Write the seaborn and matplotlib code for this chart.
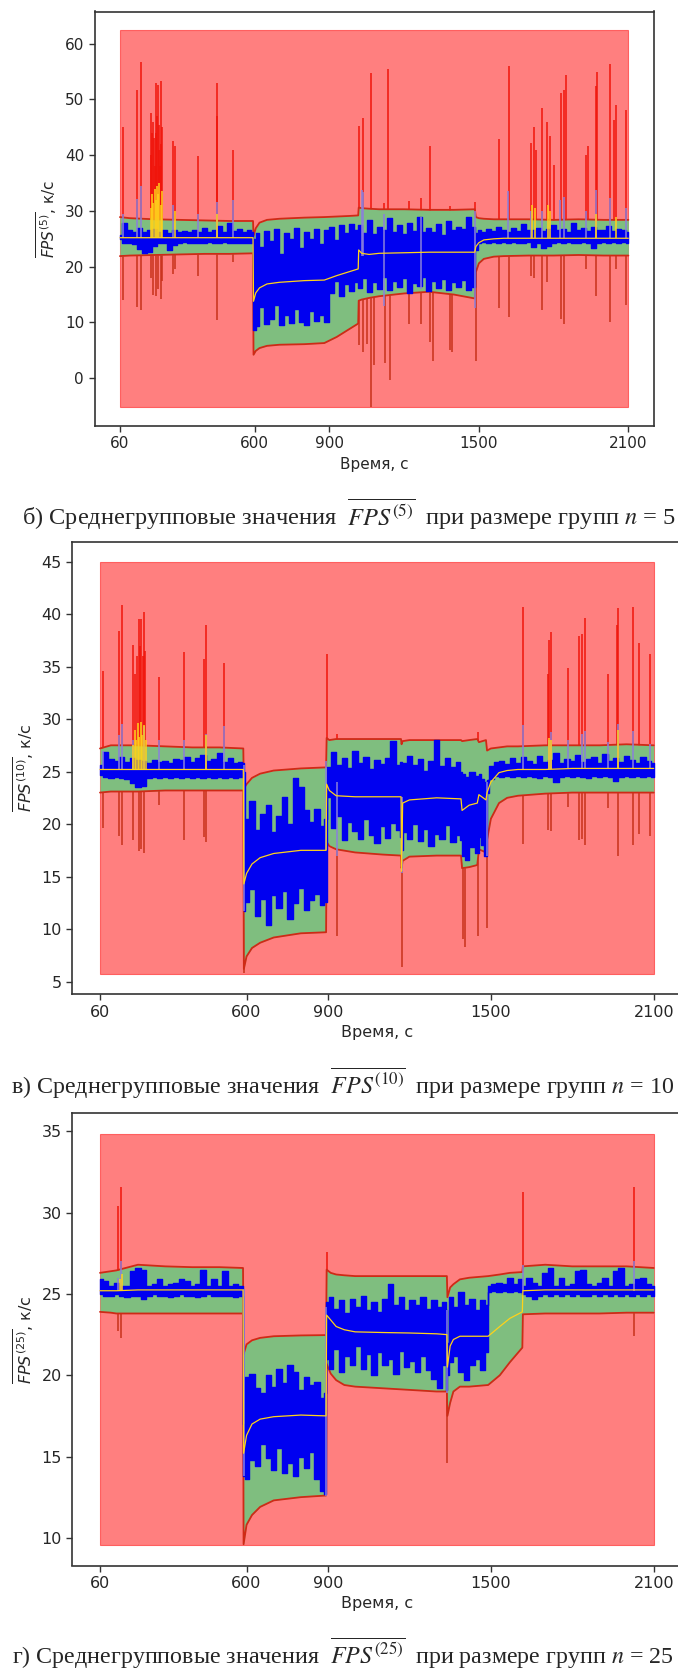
import numpy as np
import matplotlib
matplotlib.use("Agg")
import matplotlib.pyplot as plt
import seaborn as sns

# ---------------------------------------------------------------------------
# Common time span of the observation window, s
time_span = [60, 2100]
x_ticks = [60, 600, 900, 1500, 2100]

# ---------------------------------------------------------------------------
# Group size n = 5
g5_zone = [-5.2, 62.4]
g5_yticks = [0, 10, 20, 30, 40, 50, 60]
g5_band_t = [60, 100, 200, 300, 400, 500, 594,
             596, 605, 620, 650, 700, 800, 880, 930, 980, 1016,
             1018, 1030, 1060, 1100, 1200, 1300, 1400, 1484,
             1488, 1500, 1520, 1560, 1600, 1700, 1800, 1900, 2000, 2100]
g5_ucl = [28.9, 28.7, 28.5, 28.4, 28.3, 28.2, 28.2,
          25.5, 26.9, 27.9, 28.4, 28.6, 28.8, 28.9, 29.0, 29.1, 29.2,
          30.6, 30.5, 30.4, 30.3, 30.3, 30.2, 30.2, 30.3,
          28.9, 28.7, 28.6, 28.5, 28.5, 28.5, 28.4, 28.5, 28.4, 28.4]
g5_lcl = [21.9, 22.0, 22.1, 22.2, 22.3, 22.3, 22.4,
          4.2, 4.9, 5.4, 5.8, 6.0, 6.1, 6.3, 7.4, 8.8, 9.8,
          13.9, 14.1, 14.4, 14.7, 15.2, 15.5, 15.0, 14.3,
          19.0, 20.6, 21.4, 21.8, 21.9, 22.0, 22.0, 22.1, 22.0, 22.0]
g5_center = [25.2, 25.2, 25.2, 25.2, 25.2, 25.2, 25.2,
             13.8, 15.3, 16.2, 16.9, 17.2, 17.5, 17.6, 18.4, 19.1, 19.6,
             23.0, 22.4, 22.2, 22.4, 22.5, 22.6, 22.6, 22.6,
             23.6, 24.3, 24.8, 25.0, 25.1, 25.1, 25.1, 25.1, 25.1, 25.1]
g5_blue_t = [60, 80, 100, 120, 140, 160, 180, 200, 220, 240, 260, 280, 300, 320,
             340, 360, 380, 400, 420, 440, 460, 480, 500, 520, 540, 560, 580, 592,
             598, 610, 630, 650, 670, 690, 710, 730, 750, 770, 790, 810, 830, 850,
             870, 890, 910, 930, 950, 970, 990, 1010,
             1020, 1040, 1060, 1080, 1100, 1120, 1140, 1160, 1180, 1200, 1220, 1240,
             1260, 1280, 1300, 1320, 1340, 1360, 1380, 1400, 1420, 1440, 1460, 1480,
             1490, 1500, 1520, 1540, 1560, 1580, 1600, 1620, 1640, 1660, 1680, 1700,
             1720, 1740, 1760, 1780, 1800, 1820, 1840, 1860, 1880, 1900, 1920, 1940,
             1960, 1980, 2000, 2020, 2040, 2060, 2080, 2100]
g5_blue_hi = [25.6, 27.9, 26.5, 26.3, 27.0, 26.2, 26.6, 26.8, 26.3, 26.5, 26.1, 26.6, 26.2, 26.4,
              26.2, 26.5, 26.3, 26.9, 26.2, 26.6, 27.3, 26.3, 27.9, 26.4, 26.8, 26.2, 26.5, 26.3,
              25.0, 26.0, 23.6, 26.4, 24.6, 26.7, 22.2, 26.1, 25.0, 26.9, 23.4, 26.3, 24.9, 26.8,
              24.1, 26.5, 27.1, 24.8, 27.5, 26.0, 27.7, 26.6,
              27.5, 26.0, 28.4, 25.8, 27.2, 26.6, 28.8, 26.2, 27.4, 25.9, 27.8, 26.4,
              28.9, 26.3, 27.0, 26.2, 27.6, 25.7, 28.2, 26.5, 27.1, 26.8, 29.0, 27.2,
              26.0, 26.6, 26.3, 26.8, 26.4, 27.2, 26.5, 26.3, 26.9, 26.4, 27.6, 26.6,
              26.5, 27.0, 26.4, 26.8, 27.4, 26.5, 26.7, 26.3, 27.8, 26.6, 26.9, 26.4,
              27.1, 26.5, 26.6, 27.3, 26.4, 26.7, 26.5, 26.3]
g5_blue_lo = [24.9, 24.3, 24.2, 24.1, 23.1, 22.5, 22.6, 23.8, 24.2, 24.3, 23.0, 23.9, 24.3, 24.4,
              24.3, 24.3, 24.2, 24.3, 24.4, 24.2, 24.3, 24.4, 24.3, 24.2, 24.3, 24.2, 24.3, 24.3,
              8.6, 9.3, 12.7, 9.7, 10.6, 13.1, 9.5, 11.3, 9.9, 12.4, 10.1, 9.6, 12.1, 10.3,
              11.4, 10.0, 15.3, 17.4, 14.8, 16.9, 15.6, 17.2,
              16.2, 18.0, 15.4, 17.3, 16.0, 18.2, 15.8, 17.5, 16.4, 17.9, 15.2, 17.0,
              16.6, 18.1, 15.7, 17.4, 16.2, 17.8, 15.9, 17.2, 16.4, 17.6, 15.8, 16.3,
              23.0, 24.3, 24.4, 24.3, 24.4, 24.3, 24.4, 24.3, 24.4, 24.2, 24.3, 24.4,
              23.5, 24.2, 23.4, 23.7, 24.3, 24.4, 24.3, 24.4, 24.3, 24.2, 24.4, 24.3,
              23.3, 24.2, 24.4, 24.3, 24.4, 24.3, 24.4, 24.3]
g5_up_t = [72, 130, 143, 183, 186, 190, 194, 197, 200, 203, 206, 208, 212, 215, 218,
           220, 223, 226, 230, 274, 279, 373, 448, 450, 515, 1018, 1036, 1068, 1119, 1136,
           1219, 1266, 1306, 1383, 1486, 1580, 1620, 1711, 1720, 1728, 1755, 1774, 1787,
           1800, 1831, 1840, 1850, 1929, 1938, 1969, 1974, 2028, 2041, 2049, 2089]
g5_up_peak = [45.1, 51.7, 56.7, 47.6, 40.0, 44.0, 46.0, 43.0, 38.0, 53.0, 44.0, 47.0, 52.6, 41.0, 45.5,
              38.0, 53.3, 42.0, 45.0, 42.5, 41.6, 39.9, 47.0, 53.0, 41.0, 45.3, 46.6, 54.8, 31.5, 55.4,
              31.8, 32.4, 41.7, 30.9, 31.6, 42.9, 56.0, 42.2, 45.1, 41.0, 48.4, 46.0, 43.5,
              38.3, 51.2, 51.7, 54.4, 40.1, 41.6, 52.4, 54.9, 56.4, 46.3, 49.0, 48.1]
g5_dn_t = [72, 130, 143, 183, 194, 203, 212, 223, 230, 274, 279, 373, 450, 515, 1018,
           1036, 1052, 1068, 1078, 1123, 1145, 1219, 1266, 1306, 1316, 1383, 1393, 1490,
           1580, 1620, 1711, 1720, 1755, 1774, 1831, 1843, 1929, 1969, 2028, 2049, 2089]
g5_dn_peak = [14.0, 12.8, 12.2, 18.0, 15.0, 14.8, 16.0, 14.2, 17.5, 18.7, 19.5, 18.4, 10.4, 20.8, 6.0,
              4.7, 6.2, -5.1, 2.4, 2.7, -0.3, 9.8, 9.8, 6.5, 3.0, 5.0, 4.7, 3.0,
              12.5, 11.0, 18.4, 18.0, 12.2, 17.2, 10.7, 9.8, 19.6, 14.8, 10.1, 19.6, 13.1]
g5_bsp_t = [72, 130, 143, 274, 373, 450, 515, 1030, 1036, 1119, 1266, 1486, 1617, 1711,
            1754, 1827, 1840, 1929, 1969, 2028, 2089]
g5_bsp_lo = [25.2, 25.2, 25.2, 25.2, 25.2, 25.2, 25.2, 22.0, 22.0, 13.0, 16.0, 12.5, 25.1, 25.1,
             25.1, 25.1, 25.1, 25.1, 25.1, 25.1, 25.1]
g5_bsp_hi = [29.5, 32.2, 34.5, 31.0, 29.5, 31.6, 32.0, 33.7, 33.4, 29.5, 29.0, 30.0, 33.5, 30.0,
             30.0, 32.0, 32.5, 30.0, 33.8, 32.3, 30.5]
g5_ysp_t = [183, 188, 194, 199, 203, 208, 213, 218, 223, 228, 280, 450, 1714, 1724, 1777, 1787, 1969, 2049]
g5_ysp_hi = [30.5, 33.0, 31.5, 34.0, 32.0, 34.5, 33.0, 35.0, 31.0, 33.5, 30.0, 29.5, 31.0, 30.5, 31.0, 30.0, 29.5, 29.0]

# ---------------------------------------------------------------------------
# Group size n = 10
g10_zone = [5.75, 44.95]
g10_yticks = [5, 10, 15, 20, 25, 30, 35, 40, 45]
g10_band_t = [60, 100, 200, 300, 400, 500, 588,
              590, 600, 620, 650, 700, 800, 893,
              895, 905, 930, 1000, 1100, 1169, 1171, 1175, 1200, 1300, 1390, 1394, 1420, 1450, 1456, 1482,
              1486, 1500, 1530, 1560, 1600, 1700, 1800, 1900, 2000, 2100]
g10_ucl = [27.2, 27.5, 27.5, 27.4, 27.3, 27.3, 27.2,
           23.4, 23.8, 24.4, 24.8, 25.1, 25.3, 25.4,
           28.2, 28.0, 28.1, 28.1, 28.1, 28.1, 27.6, 27.9, 28.0, 28.0, 28.0, 27.9, 28.0, 28.1, 27.8, 28.0,
           27.0, 27.2, 27.3, 27.4, 27.4, 27.5, 27.5, 27.5, 27.6, 27.5]
g10_lcl = [23.0, 23.1, 23.1, 23.2, 23.2, 23.2, 23.2,
           6.2, 7.4, 8.2, 8.7, 9.2, 9.6, 9.7,
           18.3, 17.9, 17.6, 17.3, 17.1, 17.0, 15.8, 16.5, 16.9, 17.0, 17.0, 15.8, 15.9, 16.1, 17.6, 17.3,
           18.5, 20.5, 22.0, 22.5, 22.7, 22.9, 23.0, 23.0, 23.0, 23.0]
g10_center = [25.2, 25.2, 25.2, 25.2, 25.2, 25.2, 25.2,
              14.3, 15.3, 16.2, 16.8, 17.2, 17.5, 17.5,
              23.8, 23.2, 22.7, 22.6, 22.6, 22.6, 15.5, 22.0, 22.3, 22.5, 22.4, 21.3, 21.8, 22.0, 22.8, 22.3,
              23.0, 24.0, 24.9, 25.1, 25.2, 25.2, 25.3, 25.3, 25.3, 25.3]
g10_blue_t = [60, 80, 100, 120, 140, 160, 180, 200, 220, 240, 260, 280, 300, 320,
              340, 360, 380, 400, 420, 440, 460, 480, 500, 520, 540, 560, 580, 588,
              592, 600, 620, 640, 660, 680, 700, 720, 740, 760, 780, 800, 820, 840, 860, 880, 892,
              900, 920, 940, 960, 980, 1000, 1020, 1040, 1060, 1080, 1100, 1120, 1140, 1160, 1168,
              1174, 1180, 1200, 1220, 1240, 1260, 1280, 1300, 1320, 1340, 1360, 1380, 1390,
              1396, 1410, 1430, 1450, 1460, 1470, 1480,
              1488, 1500, 1520, 1540, 1560, 1580, 1600, 1620, 1640, 1660, 1680, 1700,
              1720, 1740, 1760, 1780, 1800, 1820, 1840, 1860, 1880, 1900, 1920, 1940,
              1960, 1980, 2000, 2020, 2040, 2060, 2080, 2100]
g10_blue_hi = [25.6, 26.9, 26.2, 26.0, 26.4, 25.9, 26.3, 26.1, 26.0, 25.8, 26.1, 25.9, 26.0, 25.8,
               26.2, 26.1, 26.4, 25.9, 26.3, 26.6, 26.0, 26.2, 26.8, 25.9, 26.3, 25.8, 25.9, 25.8,
               25.0, 20.5, 22.2, 19.4, 21.0, 21.8, 19.2, 20.8, 22.6, 20.0, 24.4, 23.5, 21.3, 20.2, 21.4, 19.8, 20.5,
               25.4, 26.9, 25.6, 26.3, 25.3, 27.0, 25.8, 26.4, 25.2, 26.1, 25.7, 26.3, 27.9, 25.6, 25.9,
               25.4, 25.8, 26.5, 25.6, 26.2, 25.1, 26.0, 28.0, 25.5, 26.3, 25.4, 25.9, 25.0,
               24.8, 24.5, 25.0, 24.6, 24.8, 24.3, 24.0,
               24.2, 25.5, 25.9, 26.0, 25.7, 26.3, 25.8, 26.4, 26.0, 25.7, 26.5, 25.9,
               26.1, 26.8, 25.8, 26.2, 26.0, 26.6, 25.9, 26.2, 26.4, 25.8, 26.7, 26.0,
               26.3, 25.9, 26.5, 26.1, 25.8, 26.4, 26.0, 25.8]
g10_blue_lo = [24.7, 24.5, 24.4, 24.5, 24.4, 24.3, 23.9, 23.5, 23.6, 24.4, 24.5, 24.4, 24.5, 24.4,
               24.5, 24.4, 24.5, 24.4, 24.5, 24.4, 24.5, 24.4, 24.5, 24.4, 24.5, 24.4, 24.5, 24.5,
               11.7, 12.6, 13.8, 11.2, 12.9, 10.4, 13.2, 12.0, 13.6, 11.0, 12.5, 13.9, 11.8, 12.8, 13.3, 12.3, 12.6,
               22.6, 19.6, 20.8, 18.5, 20.2, 19.3, 18.6, 20.5, 19.0, 18.2, 19.8, 18.7, 20.1, 19.4, 18.8,
               17.5, 19.2, 18.6, 20.0, 18.4, 19.5, 17.9, 19.1, 18.6, 19.9, 18.3, 19.0, 18.5,
               17.0, 16.6, 17.8, 17.2, 18.8, 18.0, 17.0,
               23.0, 24.3, 24.6, 24.5, 24.6, 24.5, 24.6, 24.5, 24.6, 24.5, 24.4, 24.6,
               24.5, 24.0, 24.5, 24.6, 24.5, 24.6, 24.5, 24.4, 24.6, 24.5, 24.6, 24.5,
               24.1, 24.5, 24.6, 24.5, 24.6, 24.5, 24.6, 24.5]
g10_up_t = [71, 129, 141, 182, 190, 197, 203, 208, 212, 217, 222, 227, 276, 370, 443,
            449, 516, 895, 935, 1453, 1617, 1709, 1714, 1721, 1784, 1826, 1834, 1846, 1933, 1963,
            1970, 2025, 2044, 2086]
g10_up_peak = [34.6, 38.4, 40.9, 37.1, 34.3, 36.0, 39.5, 37.0, 39.5, 36.0, 40.2, 36.5, 34.0, 36.4, 35.7,
               39.0, 35.3, 36.2, 28.6, 28.8, 40.7, 34.3, 37.5, 38.3, 34.9, 37.9, 38.1, 39.6, 34.3, 39.0,
               40.6, 40.7, 37.2, 36.2]
g10_dn_t = [71, 129, 141, 182, 203, 212, 222, 276, 370, 443, 449, 590, 935, 1171, 1398,
            1405, 1454, 1484, 1617, 1711, 1721, 1784, 1826, 1834, 1846, 1933, 1967, 2025, 2044, 2086]
g10_dn_peak = [19.6, 18.9, 18.0, 18.5, 17.4, 17.6, 17.2, 21.8, 18.5, 18.8, 18.3, 5.8, 9.3, 6.4, 9.1,
               8.3, 9.3, 10.1, 18.1, 19.4, 19.3, 21.6, 18.5, 18.6, 18.0, 21.5, 17.0, 18.0, 19.1, 18.9]
g10_bsp_t = [71, 129, 141, 182, 222, 276, 370, 449, 516, 592, 894, 935, 1171, 1484,
             1617, 1714, 1721, 1784, 1834, 1846, 1933, 1967, 2025, 2086]
g10_bsp_lo = [25.2, 25.2, 25.2, 25.2, 25.2, 25.2, 25.2, 25.2, 25.2, 11.7, 17.5, 17.0, 15.3, 17.0,
              25.2, 25.2, 25.2, 25.2, 25.2, 25.2, 25.2, 25.2, 25.2, 25.2]
g10_bsp_hi = [27.0, 28.5, 29.5, 28.0, 29.3, 28.0, 28.0, 28.6, 29.3, 25.6, 26.0, 24.0, 22.6, 24.0,
              29.4, 28.0, 28.8, 28.0, 28.6, 28.9, 27.8, 29.5, 28.9, 27.6]
g10_ysp_t = [182, 188, 194, 199, 204, 210, 216, 222, 228, 449, 1714, 1721, 1967]
g10_ysp_hi = [27.5, 29.0, 28.0, 29.6, 28.3, 29.7, 28.5, 29.4, 28.0, 28.5, 28.2, 28.0, 29.0]

# ---------------------------------------------------------------------------
# Group size n = 25
g25_zone = [9.56, 34.87]
g25_yticks = [10, 15, 20, 25, 30, 35]
g25_band_t = [60, 100, 120, 200, 300, 400, 500, 587,
              589, 600, 620, 650, 700, 800, 893,
              895, 910, 930, 960, 1000, 1100, 1200, 1300, 1338,
              1340, 1350, 1362, 1386, 1420, 1490, 1533, 1570, 1616,
              1618, 1700, 1800, 1900, 2000, 2100]
g25_ucl = [26.3, 26.4, 26.45, 26.8, 26.7, 26.65, 26.65, 26.6,
           21.3, 21.9, 22.15, 22.3, 22.4, 22.45, 22.47,
           26.5, 26.3, 26.2, 26.15, 26.1, 26.1, 26.1, 26.1, 26.1,
           24.8, 25.4, 25.6, 25.9, 26.0, 26.1, 26.2, 26.3, 26.35,
           26.7, 26.8, 26.7, 26.7, 26.7, 26.6]
g25_lcl = [23.9, 23.85, 23.8, 23.8, 23.8, 23.8, 23.8, 23.8,
           9.6, 10.8, 11.4, 11.9, 12.3, 12.5, 12.6,
           20.7, 20.1, 19.7, 19.4, 19.3, 19.2, 19.1, 19.0, 19.0,
           17.5, 18.3, 19.0, 19.3, 19.3, 19.4, 20.0, 20.8, 21.7,
           23.75, 23.8, 23.8, 23.8, 23.85, 23.85]
g25_center = [25.2, 25.2, 25.2, 25.25, 25.25, 25.25, 25.25, 25.25,
              15.2, 16.3, 17.0, 17.3, 17.45, 17.55, 17.5,
              23.7, 23.4, 23.0, 22.8, 22.67, 22.63, 22.6, 22.55, 22.5,
              20.5, 21.8, 22.2, 22.4, 22.4, 22.4, 23.0, 23.5, 23.9,
              25.2, 25.25, 25.25, 25.25, 25.25, 25.25]
g25_blue_t = [60, 80, 100, 120, 140, 160, 180, 200, 220, 240, 260, 280, 300, 320,
              340, 360, 380, 400, 420, 440, 460, 480, 500, 520, 540, 560, 580, 586,
              590, 600, 620, 640, 660, 680, 700, 720, 740, 760, 780, 800, 820, 840, 860, 880, 891,
              898, 910, 930, 950, 970, 990, 1010, 1030, 1050, 1070, 1090, 1110, 1130, 1150,
              1170, 1190, 1210, 1230, 1250, 1270, 1290, 1310, 1330, 1336,
              1342, 1350, 1370, 1390, 1410, 1430, 1450, 1470, 1488,
              1492, 1510, 1530, 1550, 1570, 1590, 1610,
              1620, 1640, 1660, 1680, 1700, 1720, 1740, 1760, 1780, 1800, 1820, 1840, 1860,
              1880, 1900, 1920, 1940, 1960, 1980, 2000, 2020, 2040, 2060, 2080, 2100]
g25_blue_hi = [25.9, 25.8, 25.5, 25.7, 25.5, 25.5, 26.4, 26.6, 26.5, 25.5, 25.6, 25.9, 25.5, 25.6,
               25.7, 25.9, 25.8, 25.5, 25.6, 26.5, 25.5, 25.9, 25.5, 26.4, 25.5, 25.6, 25.5, 25.5,
               17.0, 19.9, 20.1, 19.2, 18.9, 20.0, 19.3, 20.4, 19.5, 20.6, 20.2, 19.1, 19.9, 19.4, 19.6, 18.6, 18.9,
               24.5, 24.8, 24.1, 24.6, 23.8, 24.7, 24.2, 24.9, 24.0, 24.5, 23.9, 24.7, 25.6, 24.3,
               24.8, 24.0, 24.6, 24.3, 24.8, 24.1, 24.6, 24.2, 24.5, 24.0,
               22.0, 24.8, 24.2, 25.1, 24.3, 24.7, 24.0, 24.6, 24.3,
               25.5, 25.6, 25.7, 25.6, 26.0, 25.6, 25.9,
               25.5, 26.0, 25.7, 25.5, 26.3, 26.6, 25.5, 26.0, 25.5, 25.6, 26.4, 26.5, 25.6,
               25.5, 25.7, 26.0, 25.5, 26.4, 26.6, 25.5, 25.6, 25.9, 26.0, 25.6, 25.5]
g25_blue_lo = [25.0, 24.9, 24.9, 25.0, 24.9, 24.8, 24.9, 24.9, 24.7, 24.9, 25.0, 24.9, 24.9, 24.8,
               24.9, 25.0, 24.9, 24.9, 24.8, 24.9, 25.0, 24.9, 24.9, 24.9, 24.9, 24.8, 24.9, 24.9,
               13.8, 13.6, 14.8, 14.4, 15.8, 14.9, 14.2, 15.5, 14.0, 14.6, 13.8, 15.0, 14.3, 15.3, 13.6, 12.9, 12.7,
               21.0, 20.4, 21.6, 20.2, 21.2, 20.6, 21.8, 20.4, 21.3, 20.0, 21.4, 20.6, 21.0, 20.1,
               21.5, 20.5, 20.9, 20.2, 21.2, 20.3, 19.8, 19.2, 20.6, 19.1,
               20.0, 20.8, 21.2, 20.2, 19.7, 20.6, 21.0, 20.3, 21.4,
               25.1, 25.2, 25.1, 25.2, 25.1, 25.2, 25.1,
               25.0, 24.9, 24.7, 24.9, 25.0, 24.9, 25.0, 24.9, 25.0, 24.9, 25.0, 24.9, 24.9,
               25.0, 24.9, 25.0, 24.9, 25.0, 24.9, 25.0, 24.9, 25.0, 24.9, 25.0, 24.9]
g25_up_t = [127, 139, 895, 1617, 2027]
g25_up_peak = [30.4, 31.6, 27.6, 31.3, 31.6]
g25_dn_t = [127, 139, 1339, 2027]
g25_dn_peak = [22.7, 22.3, 14.6, 22.4]
g25_bsp_t = [127, 139, 590, 893, 1339, 1617, 2027]
g25_bsp_lo = [25.2, 25.2, 13.8, 12.6, 18.9, 25.2, 25.2]
g25_bsp_hi = [26.0, 27.0, 25.3, 24.2, 24.0, 26.8, 27.0]
g25_ysp_t = [135, 140]
g25_ysp_hi = [25.9, 26.2]

# ---------------------------------------------------------------------------
sns.set_style("ticks")
plt.rcParams["font.family"] = ["DejaVu Sans"]
plt.rcParams["mathtext.fontset"] = "dejavusans"
plt.rcParams["axes.edgecolor"] = "#333333"
plt.rcParams["axes.linewidth"] = 1.2

ZONE = "red"
BAND = "#7fbe7f"
LIMIT = "#cf2a16"
SPIKE_UP = "#f0140a"
SPIKE_DN = "#c8321a"
BLUE = "#0000f0"
BLUE_SPIKE = "#8a80dc"
MEAN = "#ffd21a"


def draw_panel(ax, zone, band_t, ucl, lcl, center, blue_t, blue_hi, blue_lo,
               up_t, up_peak, dn_t, dn_peak, bsp_t, bsp_lo, bsp_hi,
               ysp_t, ysp_hi, yticks, n, fs):
    # out-of-control zone
    ax.fill_between(time_span, zone[0], zone[1], color=ZONE, alpha=0.5,
                    lw=0.8, zorder=1)
    # bursts of the control limits
    up_base = np.interp(up_t, band_t, center)
    dn_base = np.interp(dn_t, band_t, center)
    ax.vlines(up_t, up_base, up_peak, color=SPIKE_UP, lw=1.1, zorder=2)
    ax.vlines(dn_t, dn_peak, dn_base, color=SPIKE_DN, lw=1.1, zorder=2)
    # in-control band
    ax.fill_between(band_t, lcl, ucl, color=BAND, lw=0, zorder=3)
    for lim in (ucl, lcl):
        sns.lineplot(x=band_t, y=lim, estimator=None, sort=False, errorbar=None,
                     color=LIMIT, linewidth=1.3, ax=ax, zorder=4)
    # group means
    ax.fill_between(blue_t, blue_lo, blue_hi, step="mid", color=BLUE, lw=1.0, zorder=5)
    ax.vlines(bsp_t, bsp_lo, bsp_hi, color=BLUE_SPIKE, lw=1.1, zorder=6)
    # running centre line
    ysp_base = np.interp(ysp_t, band_t, center)
    ax.vlines(ysp_t, ysp_base, ysp_hi, color=MEAN, lw=1.1, zorder=7)
    sns.lineplot(x=band_t, y=center, estimator=None, sort=False, errorbar=None,
                 color=MEAN, linewidth=0.9, ax=ax, zorder=8)

    ax.set_xticks(x_ticks)
    ax.set_yticks(yticks)
    ax.tick_params(labelsize=fs, length=4, width=1.0, color="#333333")
    ax.set_xlabel("Время, с", fontsize=fs)
    ax.set_ylabel(r"$\overline{FPS^{(%d)}}$, к/с" % n, fontsize=fs)
    for s in ax.spines.values():
        s.set_visible(True)


W, H = 678, 1671
fig = plt.figure(figsize=(W / 100, H / 100), dpi=100)


def add_axes(left, right, top, bottom):
    return fig.add_axes([left / W, 1 - bottom / H, (right - left) / W, (bottom - top) / H])


ax1 = add_axes(94.5, 653.8, 11.5, 426.0)
ax2 = add_axes(72.3, 681.4, 541.5, 994.3)
ax3 = add_axes(72.3, 681.4, 1113.0, 1565.5)

draw_panel(ax1, g5_zone, g5_band_t, g5_ucl, g5_lcl, g5_center,
           g5_blue_t, g5_blue_hi, g5_blue_lo, g5_up_t, g5_up_peak, g5_dn_t, g5_dn_peak,
           g5_bsp_t, g5_bsp_lo, g5_bsp_hi, g5_ysp_t, g5_ysp_hi, g5_yticks, 5, 11)
draw_panel(ax2, g10_zone, g10_band_t, g10_ucl, g10_lcl, g10_center,
           g10_blue_t, g10_blue_hi, g10_blue_lo, g10_up_t, g10_up_peak, g10_dn_t, g10_dn_peak,
           g10_bsp_t, g10_bsp_lo, g10_bsp_hi, g10_ysp_t, g10_ysp_hi, g10_yticks, 10, 11.5)
draw_panel(ax3, g25_zone, g25_band_t, g25_ucl, g25_lcl, g25_center,
           g25_blue_t, g25_blue_hi, g25_blue_lo, g25_up_t, g25_up_peak, g25_dn_t, g25_dn_peak,
           g25_bsp_t, g25_bsp_lo, g25_bsp_hi, g25_ysp_t, g25_ysp_hi, g25_yticks, 25, 11.5)

captions = [
    (21.6, 525, 17.6, "б) Среднегрупповые значения  $\\overline{FPS^{(5)}}$  при размере групп $n$ = 5"),
    (10.8, 1094, 17.3, "в) Среднегрупповые значения  $\\overline{FPS^{(10)}}$  при размере групп $n$ = 10"),
    (12.0, 1664, 17.3, "г) Среднегрупповые значения  $\\overline{FPS^{(25)}}$  при размере групп $n$ = 25"),
]
for x, y, fsz, txt in captions:
    fig.text(x / W, 1 - y / H, txt, fontsize=fsz, family="Liberation Serif",
             math_fontfamily="stix", ha="left", va="baseline")

fig.savefig("out.png", dpi=100)
